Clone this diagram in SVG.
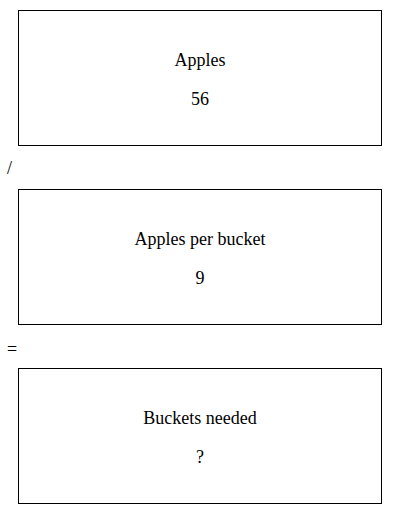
<svg xmlns="http://www.w3.org/2000/svg" width="400" height="514" viewBox="0 0 400 514">
<style>
.box{fill:#fff;stroke:#000;stroke-width:1}
text{font-family:"Liberation Serif","Times New Roman",serif;font-size:18px;fill:#000;text-anchor:middle}
.op{text-anchor:start}
</style>
<rect width="400" height="514" fill="#fff"/>
<g id="node-apples"><rect class="box" x="18.5" y="10.5" width="363" height="135"/><text x="200" y="66">Apples</text><text x="200" y="105">56</text></g>
<g id="connectors"><text class="op" x="7" y="174">/</text><text class="op" x="7" y="355">=</text></g>
<g id="node-per-bucket"><rect class="box" x="18.5" y="189.5" width="363" height="135"/><text x="200" y="245">Apples per bucket</text><text x="200" y="284">9</text></g>
<g id="node-buckets"><rect class="box" x="18.5" y="368.5" width="363" height="135"/><text x="200" y="424">Buckets needed</text><text x="200" y="463">?</text></g>
</svg>
